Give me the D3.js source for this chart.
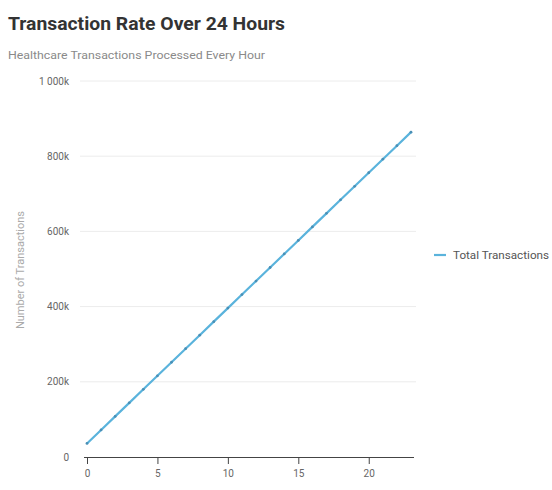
<!DOCTYPE html>
<html>
<head>
<meta charset="utf-8">
<script src="https://cdn.jsdelivr.net/npm/d3@7"></script>
<style>
  body { margin: 0; background: #fff; }
  text { font-family: Roboto, "Liberation Sans", sans-serif; }
</style>
</head>
<body>
<div id="chart"></div>
<script>
// data
const hours = [0, 1, 2, 3, 4, 5, 6, 7, 8, 9, 10, 11, 12, 13, 14, 15, 16, 17, 18, 19, 20, 21, 22, 23];
const totals = [36000, 72000, 108000, 144000, 180000, 216000, 252000, 288000, 324000, 360000, 396000, 432000,
  468000, 504000, 540000, 576000, 612000, 648000, 684000, 720000, 756000, 792000, 828000, 864000];
const yTicks = [0, 200000, 400000, 600000, 800000, 1000000];
const yTickLabels = ['0', '200k', '400k', '600k', '800k', '1 000k'];
const xTicks = [0, 5, 10, 15, 20];
const seriesName = 'Total Transactions';

const W = 552, H = 490;
const lineColor = '#5ab3dc';

const svg = d3.select('#chart').append('svg')
  .attr('width', W)
  .attr('height', H);

// titles
svg.append('text')
  .attr('x', 8).attr('y', 30)
  .attr('font-size', 19).attr('font-weight', 'bold')
  .attr('fill', '#333')
  .attr('textLength', 277).attr('lengthAdjust', 'spacingAndGlyphs')
  .text('Transaction Rate Over 24 Hours');

svg.append('text')
  .attr('x', 8).attr('y', 59)
  .attr('font-size', 11.5)
  .attr('fill', '#8a8a8a')
  .attr('textLength', 257).attr('lengthAdjust', 'spacingAndGlyphs')
  .text('Healthcare Transactions Processed Every Hour');

const x = d3.scaleLinear([0, 23], [87, 411]);
const y = d3.scaleLinear([0, 1000000], [457, 81]);

// grid
svg.append('g')
  .selectAll('line')
  .data(yTicks.slice(1))
  .join('line')
    .attr('x1', 80).attr('x2', 416)
    .attr('y1', d => y(d)).attr('y2', d => y(d))
    .attr('stroke', '#ececec');

// y labels
svg.append('g')
  .selectAll('text')
  .data(yTicks)
  .join('text')
    .attr('x', 69)
    .attr('y', d => y(d) + 3.5)
    .attr('text-anchor', 'end')
    .attr('font-size', 10)
    .attr('fill', '#666')
    .text((d, i) => yTickLabels[i]);

svg.append('text')
  .attr('transform', 'translate(24,270) rotate(-90)')
  .attr('text-anchor', 'middle')
  .attr('font-size', 11)
  .attr('fill', '#aaa')
  .text('Number of Transactions');

// x axis
const xAxis = svg.append('g')
  .attr('transform', `translate(0,${y(0)})`)
  .call(d3.axisBottom(x).tickValues(xTicks).tickSize(7).tickPadding(6).tickSizeOuter(0));
xAxis.select('.domain').attr('stroke', '#444').attr('d', `M84,0.5H414`);
xAxis.selectAll('.tick line').attr('stroke', '#444');
xAxis.selectAll('.tick text')
  .attr('font-size', 10)
  .attr('font-family', 'Roboto, sans-serif')
  .attr('fill', '#666');

// series
const line = d3.line()
  .x((d, i) => x(hours[i]))
  .y(d => y(d));

svg.append('path')
  .datum(totals)
  .attr('d', line)
  .attr('fill', 'none')
  .attr('stroke', lineColor)
  .attr('stroke-width', 2.2);

svg.append('g')
  .selectAll('circle')
  .data(totals)
  .join('circle')
    .attr('cx', (d, i) => x(hours[i]))
    .attr('cy', d => y(d))
    .attr('r', 1.4)
    .attr('fill', '#4a8fb5');

// legend
const lg = svg.append('g').attr('transform', 'translate(434,255)');
lg.append('line')
  .attr('x1', 0).attr('x2', 12)
  .attr('stroke', lineColor).attr('stroke-width', 2.2);
lg.append('text')
  .attr('x', 19).attr('y', 4)
  .attr('font-size', 11)
  .attr('fill', '#555')
  .attr('textLength', 96).attr('lengthAdjust', 'spacingAndGlyphs')
  .text(seriesName);
</script>
</body>
</html>
